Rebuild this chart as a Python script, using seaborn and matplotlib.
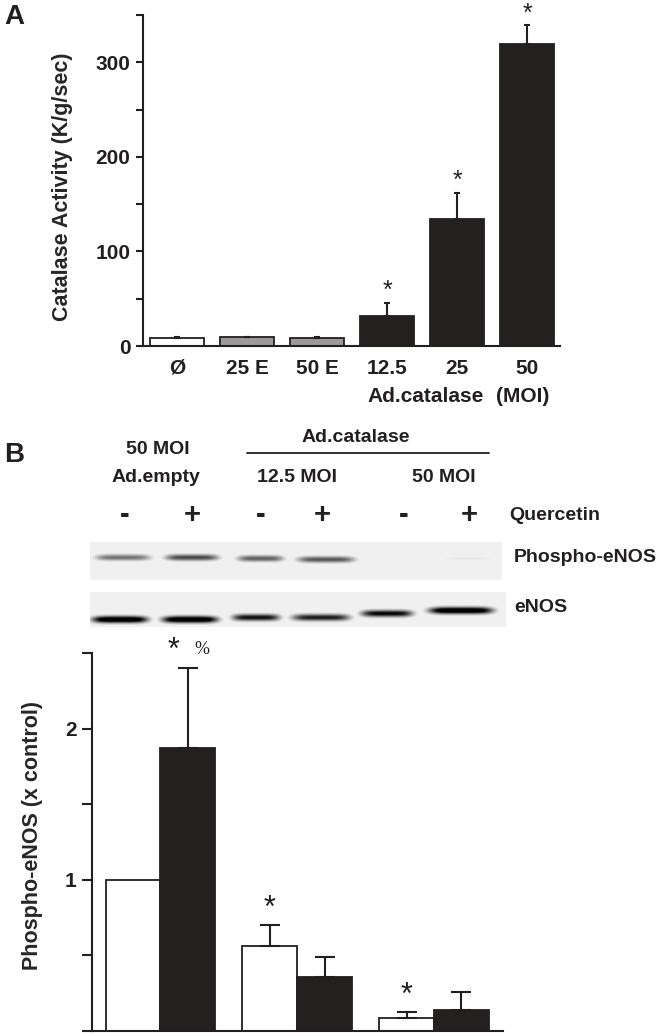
import numpy as np
import pandas as pd
import matplotlib
matplotlib.use("Agg")
import matplotlib.pyplot as plt
import seaborn as sns

# ---- Panel A: catalase activity ------------------------------------------
A_LABELS = ["Ø", "25 E", "50 E", "12.5", "25", "50"]
A_VALUES = [8.5, 9.0, 8.0, 31.7, 134.0, 319.0]
A_ERRORS = [0.5, 0.5, 1.5, 13.8, 28.0, 20.0]
A_STARS = ["", "", "", "*", "*", "*"]

# ---- Panel B: phospho-eNOS densitometry ----------------------------------
B_GROUPS = ["Ad.empty 50", "Ad.catalase 12.5", "Ad.catalase 50"]
B_QUERCETIN = ["-", "+"]
B_VALUES_MINUS = [1.0, 0.565, 0.086]
B_VALUES_PLUS = [1.874, 0.36, 0.14]
B_ERR_MINUS = [0.0, 0.135, 0.04]
B_ERR_PLUS = [0.53, 0.13, 0.12]
B_MARKS_MINUS = ["", "*", "*"]
B_MARKS_PLUS = ["*", "", ""]

# western blot band intensities per lane (0 = none, 1 = black)
PHOSPHO_BANDS = [0.55, 0.72, 0.62, 0.66, 0.06, 0.09]
ENOS_BANDS = [1.25, 1.25, 0.95, 0.9, 1.0, 1.25]

W, H = 659, 1036
INK = "#231f20"
FS = 15

sns.set_style("ticks")
plt.rcParams["font.family"] = ["Liberation Sans", "DejaVu Sans"]
plt.rcParams["font.weight"] = "bold"
plt.rcParams["axes.labelweight"] = "bold"
plt.rcParams["text.color"] = INK
plt.rcParams["axes.edgecolor"] = INK
plt.rcParams["xtick.color"] = INK
plt.rcParams["ytick.color"] = INK

fig = plt.figure(figsize=(W / 100, H / 100), dpi=100)


def box(x0, y0, x1, y1):
    """pixel box (top-left origin) -> figure fraction rect"""
    return [x0 / W, 1 - y1 / H, (x1 - x0) / W, (y1 - y0) / H]


def ftext(x, y, s, **kw):
    kw.setdefault("ha", "center")
    kw.setdefault("va", "center")
    kw.setdefault("fontsize", 14)
    kw.setdefault("fontweight", "bold")
    fig.text(x / W, 1 - y / H, s, **kw)


# ===================== Panel A =====================
axA = fig.add_axes(box(143, 15, 560, 346))
dfA = pd.DataFrame({"label": A_LABELS, "value": A_VALUES})
colorsA = ["white", "#9a9a9a", "#9a9a9a", INK, INK, INK]
sns.barplot(data=dfA, x="label", y="value", hue="label", palette=colorsA,
            order=A_LABELS, hue_order=A_LABELS, legend=False, errorbar=None,
            width=0.77, edgecolor=INK, linewidth=1.3, ax=axA)
for cont, err, star in zip(axA.containers, A_ERRORS, A_STARS):
    bar = cont[0]
    xc = bar.get_x() + bar.get_width() / 2
    top = bar.get_height()
    axA.errorbar(xc, top, yerr=[[0], [err]], fmt="none", ecolor=INK,
                 elinewidth=1.5, capsize=2.5, capthick=1.5)
    if star:
        axA.annotate(star, (xc, top + err), xytext=(0, 0),
                     textcoords="offset points", ha="center", va="bottom",
                     fontsize=18, fontweight="normal")

axA.set_xlim(-0.486, 5.47)
axA.set_ylim(0, 350)
axA.set_yticks([0, 100, 200, 300])
axA.set_yticks([50, 150, 250, 350], minor=True)
axA.tick_params(axis="y", which="both", direction="out", length=5, width=1.5,
                labelsize=FS, pad=4)
axA.tick_params(axis="x", length=0, labelsize=FS, pad=9)
for lab in axA.get_xticklabels() + axA.get_yticklabels():
    lab.set_fontweight("bold")
axA.set_xlabel("")
axA.set_ylabel("Catalase Activity (K/g/sec)", fontsize=FS + 0.5, va="center")
axA.yaxis.set_label_coords(-0.194, 0.48)
sns.despine(ax=axA)
for sp in ("left", "bottom"):
    axA.spines[sp].set_linewidth(1.5)

axA.annotate("Ad.catalase", (3.55, 0), xycoords=("data", "axes fraction"),
             xytext=(0, -36), textcoords="offset points", ha="center",
             va="center", fontsize=FS, fontweight="bold")
axA.annotate("(MOI)", (4.93, 0), xycoords=("data", "axes fraction"),
             xytext=(0, -36), textcoords="offset points", ha="center",
             va="center", fontsize=FS, fontweight="bold")

ftext(14, 17, "A", fontsize=20)

# ===================== Panel B header =====================
ftext(14, 455, "B", fontsize=20)
ftext(158, 449, "50 MOI")
ftext(156, 477, "Ad.empty")
ftext(356, 437, "Ad.catalase")
fig.add_artist(plt.Line2D([247 / W, 489 / W], [1 - 453 / H, 1 - 453 / H],
                          color=INK, linewidth=1.3))
ftext(297, 477, "12.5 MOI")
ftext(444, 477, "50 MOI")
for xs, sign in zip([125, 192, 261, 322, 404, 469], ["-", "+"] * 3):
    ftext(xs, 515, sign, fontsize=21)
ftext(509, 515, "Quercetin", ha="left")
ftext(514, 557, "Phospho-eNOS", ha="left")
ftext(514, 608, "eNOS", ha="left")


# ===================== Blots =====================
def draw_blot(rect_px, spans, centers, sigma, lanes_dark):
    x0, y0, x1, y1 = rect_px
    w, h = x1 - x0, y1 - y0
    img = np.full((h, w), 0.06)
    yy = np.arange(h)[:, None]
    xx = np.arange(w)[None, :]
    for (a, b), yc, val in zip(spans, centers, lanes_dark):
        a -= x0
        b -= x0
        mid, half = (a + b) / 2, (b - a) / 2
        hprof = np.exp(-np.abs((xx - mid) / half) ** 5)
        vprof = np.exp(-((yy - (yc - y0)) / sigma) ** 2)
        img = np.maximum(img, np.clip(val * hprof * vprof, 0, 1))
    ax = fig.add_axes(box(x0, y0, x1, y1))
    ax.imshow(img, cmap="gray_r", vmin=0, vmax=1, aspect="auto",
              interpolation="bilinear")
    ax.set_axis_off()


draw_blot((90, 542, 502, 580),
          [(95, 150), (165, 218), (237, 283), (297, 354), (372, 426), (439, 496)],
          [557, 557, 558, 559, 558, 558], 3.2, PHOSPHO_BANDS)
draw_blot((90, 592, 506, 627),
          [(92, 147), (162, 217), (232, 279), (292, 349), (361, 412), (429, 492)],
          [619, 619, 617, 617, 613, 610], 3.4, ENOS_BANDS)

# ===================== Panel B chart =====================
axB = fig.add_axes(box(92, 653, 503, 1031))
dfB = pd.DataFrame({
    "group": B_GROUPS * 2,
    "quercetin": [B_QUERCETIN[0]] * 3 + [B_QUERCETIN[1]] * 3,
    "value": B_VALUES_MINUS + B_VALUES_PLUS,
})
sns.barplot(data=dfB, x="group", y="value", hue="quercetin",
            order=B_GROUPS, hue_order=B_QUERCETIN, palette=["white", INK],
            errorbar=None, width=0.8, edgecolor=INK, linewidth=1.3,
            legend=False, ax=axB)
errs = [B_ERR_MINUS, B_ERR_PLUS]
marks = [B_MARKS_MINUS, B_MARKS_PLUS]
for cont, err_l, mark_l in zip(axB.containers, errs, marks):
    for bar, err, mark in zip(cont, err_l, mark_l):
        xc = bar.get_x() + bar.get_width() / 2
        top = bar.get_height()
        if err > 0:
            axB.errorbar(xc, top, yerr=[[0], [err]], fmt="none", ecolor=INK,
                         elinewidth=1.5, capsize=7.5, capthick=1.5)
        if mark:
            big = top > 1.5
            axB.annotate(mark, (xc, top + err), xytext=(-10 if big else 0, 1),
                         textcoords="offset points", ha="center", va="bottom",
                         fontsize=22, fontweight="normal")
            if big:
                axB.annotate("%", (xc, top + err), xytext=(10, 7),
                             textcoords="offset points", ha="center",
                             va="bottom", fontsize=13, fontweight="normal",
                             family=["Liberation Serif", "DejaVu Serif"])

axB.set_xlim(-0.5, 2.505)
axB.set_ylim(0, 2.5)
axB.set_yticks([1, 2])
axB.set_yticklabels(["1", "2"])
axB.set_yticks([0, 0.5, 1.5, 2.5], minor=True)
axB.tick_params(axis="y", which="both", direction="out", length=7, width=1.5,
                labelsize=FS, pad=4)
axB.tick_params(axis="x", length=0, labelbottom=False)
for lab in axB.get_yticklabels():
    lab.set_fontweight("bold")
axB.set_xlabel("")
axB.set_ylabel("Phospho-eNOS (x control)", fontsize=FS + 0.5, va="center")
axB.yaxis.set_label_coords(-0.1436, 0.516)
sns.despine(ax=axB)
for sp in ("left", "bottom"):
    axB.spines[sp].set_linewidth(1.5)

fig.savefig("out.png", dpi=100)
